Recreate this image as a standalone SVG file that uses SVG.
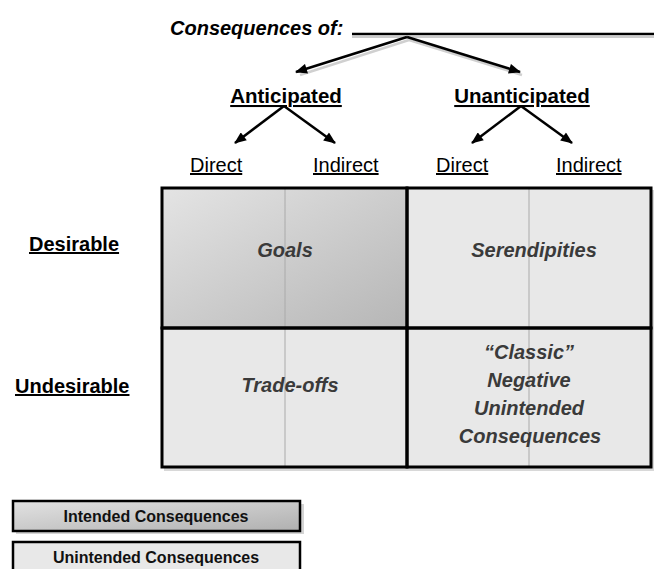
<svg xmlns="http://www.w3.org/2000/svg" width="654" height="569" viewBox="0 0 654 569">
<defs>
<linearGradient id="gDark" x1="0" y1="0" x2="1" y2="1">
<stop offset="0" stop-color="#e4e4e4"/>
<stop offset="1" stop-color="#b6b6b6"/>
</linearGradient>
<linearGradient id="gLegend" x1="0" y1="0" x2="1" y2="1">
<stop offset="0" stop-color="#e2e2e2"/>
<stop offset="1" stop-color="#b0b0b0"/>
</linearGradient>
<marker id="ah" viewBox="0 0 12 10" refX="11" refY="5" markerWidth="13" markerHeight="10" orient="auto" markerUnits="userSpaceOnUse">
<path d="M0,0 L12,5 L0,10 Z" fill="#000"/>
</marker>
</defs>
<style>
text{font-family:"Liberation Sans",Arial,sans-serif;font-weight:bold;}
.title{font-size:20px;font-style:italic;fill:#000;}
.hdr{font-size:20.5px;fill:#000;text-decoration:underline;}
.sub{font-size:20px;font-weight:normal;fill:#000;text-decoration:underline;}
.cell{font-size:20px;font-style:italic;fill:#3a3a3a;text-anchor:middle;}
.row{font-size:20px;fill:#000;text-decoration:underline;}
.leg{font-size:16px;fill:#111;text-anchor:middle;}
.conn{stroke:#000;stroke-width:2.5;fill:none;marker-end:url(#ah);}
.shadow{stroke:#d0d0d0;stroke-width:2.5;fill:none;}
.box{stroke:#000;stroke-width:3;}
.thin{stroke:#aaa;stroke-width:1;}
</style>
<g id="title">
<text class="title" x="170" y="35">Consequences of:</text>
<line x1="352" y1="37" x2="654" y2="37" stroke="#ccc" stroke-width="2"/>
<line x1="352" y1="34" x2="654" y2="34" stroke="#000" stroke-width="2.5"/>
</g>
<g id="connectors">
<line class="shadow" x1="409" y1="40" x2="300" y2="75"/>
<line class="shadow" x1="409" y1="40" x2="522" y2="75"/>
<line class="conn" x1="407" y1="37" x2="296" y2="72"/>
<line class="conn" x1="407" y1="37" x2="520" y2="72"/>
<line class="conn" x1="284" y1="106" x2="235" y2="143"/>
<line class="conn" x1="284" y1="106" x2="335" y2="143"/>
<line class="conn" x1="521" y1="106" x2="472" y2="143"/>
<line class="conn" x1="521" y1="106" x2="572" y2="143"/>
</g>
<g id="anticipated"><text class="hdr" x="286" y="103" text-anchor="middle">Anticipated</text></g>
<g id="unanticipated"><text class="hdr" x="522" y="103" text-anchor="middle">Unanticipated</text></g>
<g id="direct1"><text class="sub" x="190" y="172">Direct</text></g>
<g id="indirect1"><text class="sub" x="313" y="172">Indirect</text></g>
<g id="direct2"><text class="sub" x="436" y="172">Direct</text></g>
<g id="indirect2"><text class="sub" x="556" y="172">Indirect</text></g>
<g id="desirable"><text class="row" x="29" y="251">Desirable</text></g>
<g id="undesirable"><text class="row" x="15" y="393">Undesirable</text></g>
<g id="grid">
<rect x="164" y="190" width="490" height="281" fill="#d8d8d8"/>
<rect x="162" y="188" width="245" height="140" fill="url(#gDark)"/>
<rect x="407" y="188" width="244" height="140" fill="#e8e8e8"/>
<rect x="162" y="328" width="245" height="139" fill="#e8e8e8"/>
<rect x="407" y="328" width="244" height="139" fill="#e8e8e8"/>
<line class="thin" x1="285" y1="188" x2="285" y2="467"/>
<line class="thin" x1="529" y1="188" x2="529" y2="467"/>
</g>
<g id="goals"><rect class="box" x="162" y="188" width="245" height="140" fill="none"/><text class="cell" x="285" y="257">Goals</text></g>
<g id="serendipities"><rect class="box" x="407" y="188" width="244" height="140" fill="none"/><text class="cell" x="534" y="257">Serendipities</text></g>
<g id="tradeoffs"><rect class="box" x="162" y="328" width="245" height="139" fill="none"/><text class="cell" x="290" y="392">Trade-offs</text></g>
<g id="classic"><rect class="box" x="407" y="328" width="244" height="139" fill="none"/>
<text class="cell" x="529" y="359">“Classic”</text>
<text class="cell" x="529" y="387">Negative</text>
<text class="cell" x="529" y="415">Unintended</text>
<text class="cell" x="530" y="443">Consequences</text>
</g>
<g id="legend-intended">
<rect x="16" y="504" width="288" height="30" fill="#d4d4d4"/>
<rect x="13" y="501" width="287" height="30" fill="url(#gLegend)" stroke="#000" stroke-width="2.5"/>
<text class="leg" x="156" y="522">Intended  Consequences</text>
</g>
<g id="legend-unintended">
<rect x="13" y="542" width="287" height="30" fill="#e8e8e8" stroke="#000" stroke-width="2.5"/>
<text class="leg" x="156" y="563">Unintended Consequences</text>
</g>
</svg>
